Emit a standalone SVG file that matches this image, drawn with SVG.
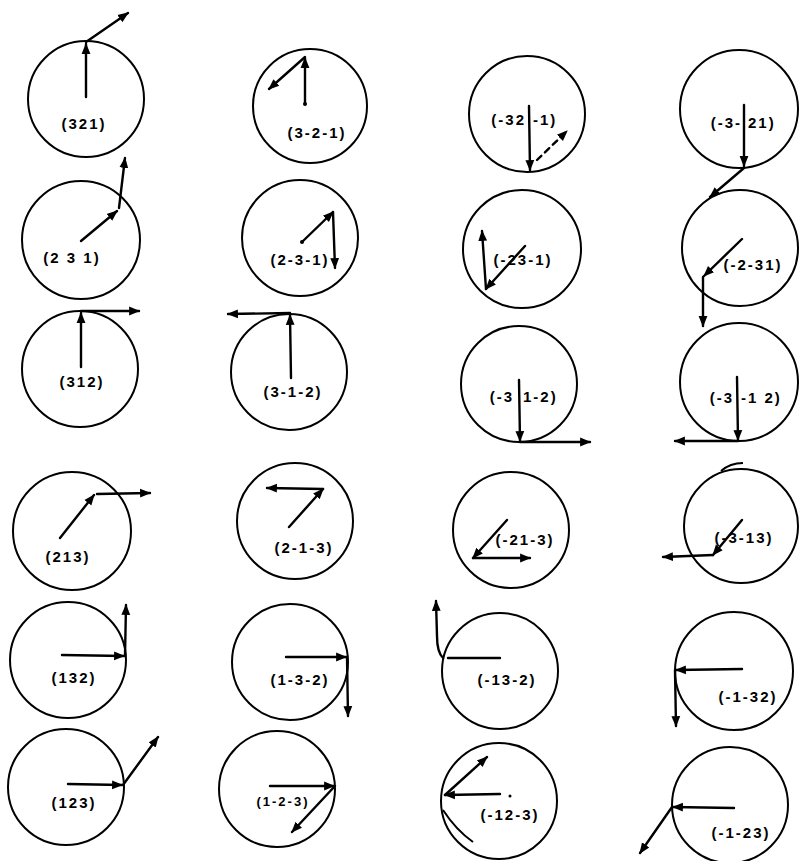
<svg xmlns="http://www.w3.org/2000/svg" width="799" height="861" viewBox="0 0 799 861">
<style>
.c{fill:none;stroke:#000;stroke-width:2}
.v{fill:none;stroke:#000;stroke-width:2.4;stroke-linecap:round}
.a{marker-end:url(#ah)}
.d{stroke-dasharray:6,5}
text{font-family:"Liberation Sans",Arial,sans-serif;font-size:15px;font-weight:bold;letter-spacing:2px;fill:#000}
.m{text-anchor:middle}
.e{text-anchor:end}
</style>
<defs>
<marker id="ah" viewBox="0 0 10 10" refX="9" refY="5" markerWidth="11" markerHeight="11" markerUnits="userSpaceOnUse" orient="auto"><path d="M0,1 L10,5 L0,9 z"/></marker>
</defs>
<rect width="799" height="861" fill="#fff"/>
<g id="n321"><circle class="c" cx="86" cy="99" r="58"/><text class="m" x="84" y="129">(321)</text></g>
<g id="n3-2-1"><circle class="c" cx="310" cy="106" r="57"/><circle cx="305" cy="104" r="2"/><text class="m" x="317" y="138">(3-2-1)</text></g>
<g id="n-32-1"><circle class="c" cx="527" cy="114" r="58"/><text class="e" x="526" y="125">(-32</text><text x="533" y="125">-1)</text></g>
<g id="n-3-21"><circle class="c" cx="739" cy="109" r="59"/><text class="e" x="742" y="128">(-3-</text><text x="748" y="128">21)</text></g>
<g id="n231"><circle class="c" cx="81" cy="240" r="59"/><text class="m" x="72" y="263">(2 3 1)</text></g>
<g id="n2-3-1"><circle class="c" cx="300" cy="238" r="58"/><circle cx="302" cy="242" r="2"/><text class="m" x="300" y="265">(2-3-1)</text></g>
<g id="n-23-1"><circle class="c" cx="522" cy="249" r="59"/><text class="m" x="523" y="265">(-23-1)</text></g>
<g id="n-2-31"><circle class="c" cx="740" cy="248" r="58"/><text class="m" x="753" y="270">(-2-31)</text></g>
<g id="n312"><circle class="c" cx="80" cy="369" r="58"/><text class="m" x="82" y="387">(312)</text></g>
<g id="n3-1-2"><circle class="c" cx="289" cy="372" r="58"/><text class="m" x="293" y="397">(3-1-2)</text></g>
<g id="n-31-2"><circle class="c" cx="519" cy="384" r="58"/><text class="e" x="514" y="402">(-3</text><text x="523" y="402">1-2)</text></g>
<g id="n-3-12"><circle class="c" cx="739" cy="382" r="59"/><text class="e" x="734" y="403">(-3</text><text x="741" y="403">-1 2)</text></g>
<g id="n213"><circle class="c" cx="72" cy="531" r="59"/><text class="m" x="68" y="562">(213)</text></g>
<g id="n2-1-3"><circle class="c" cx="295" cy="521" r="58"/><text class="m" x="304" y="553">(2-1-3)</text></g>
<g id="n-21-3"><circle class="c" cx="511" cy="530" r="58"/><text class="m" x="525" y="545">(-21-3)</text></g>
<g id="n-3-13"><circle class="c" cx="741" cy="526" r="57"/><path class="c" d="M721,471 Q730,463 743,463"/><text class="m" x="744" y="543">(-3-13)</text></g>
<g id="n132"><circle class="c" cx="68" cy="660" r="58"/><text class="m" x="74" y="683">(132)</text></g>
<g id="n1-3-2"><circle class="c" cx="290" cy="662" r="58"/><text class="m" x="300" y="685">(1-3-2)</text></g>
<g id="n-13-2"><circle class="c" cx="500" cy="671" r="58"/><text class="m" x="507" y="685">(-13-2)</text></g>
<g id="n-1-32"><circle class="c" cx="734" cy="671" r="59"/><text class="m" x="748" y="702">(-1-32)</text></g>
<g id="n123"><circle class="c" cx="66" cy="787" r="58"/><text class="m" x="74" y="808">(123)</text></g>
<g id="n1-2-3"><circle class="c" cx="277" cy="789" r="58"/><text class="m" x="283" y="806" style="font-size:13px">(1-2-3)</text></g>
<g id="n-12-3"><circle class="c" cx="499" cy="801" r="58"/><path class="c" d="M443,810 Q456,830 473,842"/><circle cx="510" cy="796" r="1.5"/><text class="m" x="510" y="820">(-12-3)</text></g>
<g id="n-1-23"><circle class="c" cx="730" cy="805" r="58"/><text class="m" x="741" y="838">(-1-23)</text></g>
<g id="vectors">
<path class="v a" d="M86,97 L86,44"/><path class="v a" d="M86,42 L128,13"/>
<path class="v a" d="M305,104 L305,58"/><path class="v a" d="M305,57 L269,89"/>
<path class="v a" d="M529,106 L530,170"/><path class="v a d" d="M537,160 L567,131"/>
<path class="v a" d="M744,105 L744,166"/><path class="v a" d="M744,168 L710,197"/>
<path class="v a" d="M81,241 L117,211"/><path class="v a" d="M119,208 L125,158"/>
<path class="v a" d="M302,242 L333,212"/><path class="v a" d="M333,212 L335,268"/>
<path class="v a" d="M525,246 L486,289"/><path class="v a" d="M486,289 L482,231"/>
<path class="v a" d="M742,239 L704,276"/><path class="v a" d="M703,277 L703,326"/>
<path class="v a" d="M81,367 L81,313"/><path class="v a" d="M81,311 L139,311"/>
<path class="v a" d="M291,378 L290,315"/><path class="v a" d="M290,313 L228,314"/>
<path class="v a" d="M519,380 L520,441"/><path class="v a" d="M520,442 L590,442"/>
<path class="v a" d="M737,377 L738,440"/><path class="v a" d="M738,441 L675,441"/>
<path class="v a" d="M60,538 L94,495"/><path class="v a" d="M97,494 L150,493"/>
<path class="v a" d="M289,527 L323,489"/><path class="v a" d="M323,489 L267,488"/>
<path class="v a" d="M507,520 L473,558"/><path class="v a" d="M473,558 L530,558"/>
<path class="v a" d="M742,520 L713,555"/><path class="v a" d="M713,555 L663,557"/>
<path class="v a" d="M62,655 L124,656"/><path class="v a" d="M125,656 L126,605"/>
<path class="v a" d="M286,657 L346,657"/><path class="v a" d="M347,657 L348,716"/>
<path class="v" d="M500,658 L448,658"/><path class="v a" d="M443,658 Q437,652 437,636 L436,601"/>
<path class="v a" d="M742,669 L676,670"/><path class="v a" d="M675,670 L676,726"/>
<path class="v a" d="M68,784 L122,785"/><path class="v a" d="M123,785 L158,737"/>
<path class="v a" d="M270,786 L334,786"/><path class="v a" d="M335,786 L292,832"/>
<path class="v a" d="M500,794 L445,795"/><path class="v a" d="M445,795 L487,757"/>
<path class="v a" d="M734,808 L673,807"/><path class="v a" d="M672,807 L640,853"/>
</g>
</svg>
